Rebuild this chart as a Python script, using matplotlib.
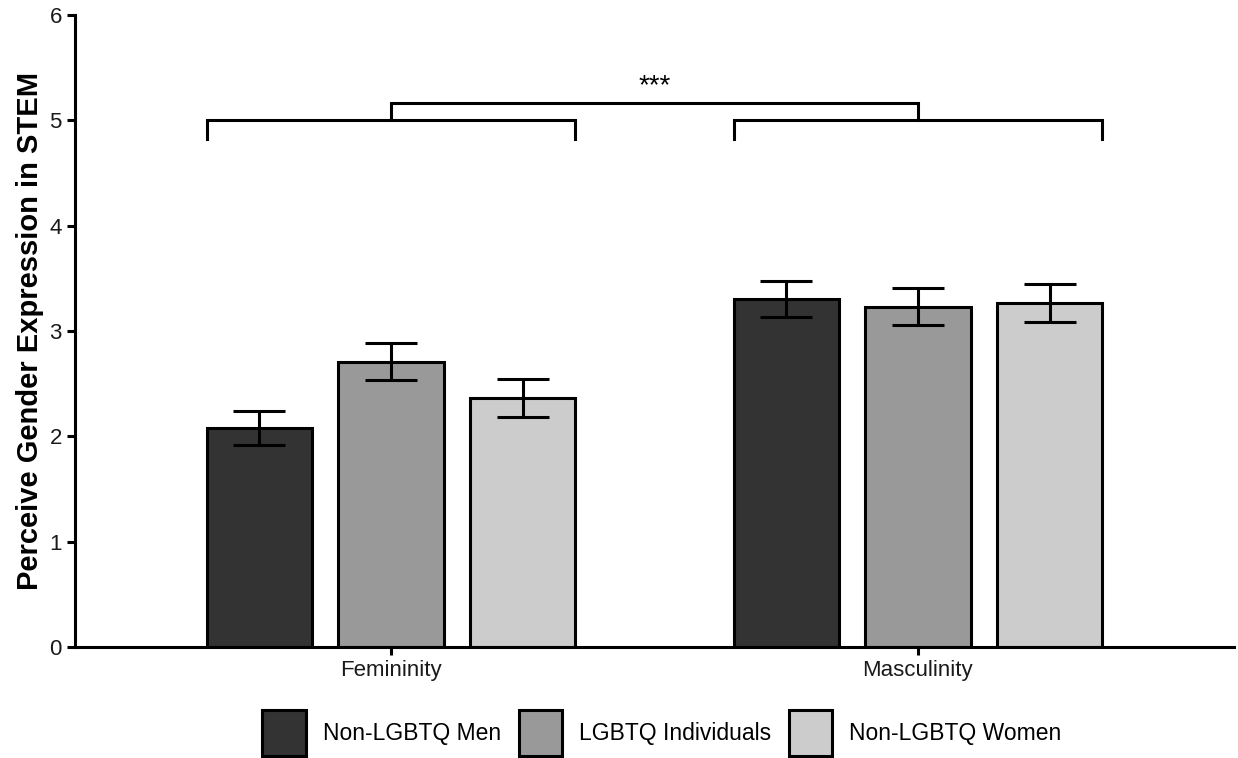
import matplotlib
matplotlib.use("Agg")
import matplotlib.pyplot as plt
from matplotlib.patches import Patch
import numpy as np

plt.rcParams['font.family'] = ['Liberation Sans', 'DejaVu Sans']

categories = ["Femininity", "Masculinity"]
groups = ["Non-LGBTQ Men", "LGBTQ Individuals", "Non-LGBTQ Women"]
colors = ["#333333", "#999999", "#CCCCCC"]
means = {
    "Non-LGBTQ Men": [2.08, 3.30],
    "LGBTQ Individuals": [2.71, 3.23],
    "Non-LGBTQ Women": [2.36, 3.27],
}
se = {
    "Non-LGBTQ Men": [0.16, 0.17],
    "LGBTQ Individuals": [0.175, 0.175],
    "Non-LGBTQ Women": [0.18, 0.18],
}
y_ticks = [0, 1, 2, 3, 4, 5, 6]

fig = plt.figure(figsize=(12.38, 7.58), dpi=100)
ax = fig.add_axes([75/1238, 1-647/758, 1159/1238, 632/758])

x = np.arange(len(categories)) + 1
width = 0.2
offsets = [-0.25, 0, 0.25]
lw = 2.2
for g, c, off in zip(groups, colors, offsets):
    ax.bar(x + off, means[g], width=width, color=c, edgecolor="black", linewidth=lw, zorder=2)
    ax.errorbar(x + off, means[g], yerr=se[g], fmt="none", ecolor="black",
                elinewidth=lw, capsize=19, capthick=lw, zorder=3)

# significance brackets
for xc in x:
    xl, xr = xc - 0.35, xc + 0.35
    ax.plot([xl, xl, xr, xr], [4.82, 5.0, 5.0, 4.82], color="black", lw=lw, solid_joinstyle="miter", zorder=3)
ax.plot([x[0], x[0], x[1], x[1]], [5.0, 5.16, 5.16, 5.0], color="black", lw=lw, solid_joinstyle="miter", zorder=3)
ax.text((x[0] + x[1]) / 2, 5.2, "***", ha="center", va="bottom", fontsize=20)

ax.set_xlim(0.4, 2.6)
ax.set_ylim(0, 6)
ax.set_yticks(y_ticks)
ax.set_xticks(x)
ax.set_xticklabels(categories)
ax.tick_params(axis="both", labelsize=16, color="black", width=lw, length=6, labelcolor="#1a1a1a")
ax.set_ylabel("Perceive Gender Expression in STEM", fontsize=21, fontweight="bold", labelpad=4)
for s in ["top", "right"]:
    ax.spines[s].set_visible(False)
for s in ["left", "bottom"]:
    ax.spines[s].set_linewidth(lw)

handles = [Patch(facecolor=c, edgecolor="black", linewidth=lw) for c in colors]
fig.legend(handles, groups, loc="center", bbox_to_anchor=(662/1238, 1-733/758), ncol=3,
           frameon=False, fontsize=16.5, handlelength=1.9, handleheight=2.7,
           handletextpad=0.75, columnspacing=0.75)

fig.savefig("out.png", dpi=100)
